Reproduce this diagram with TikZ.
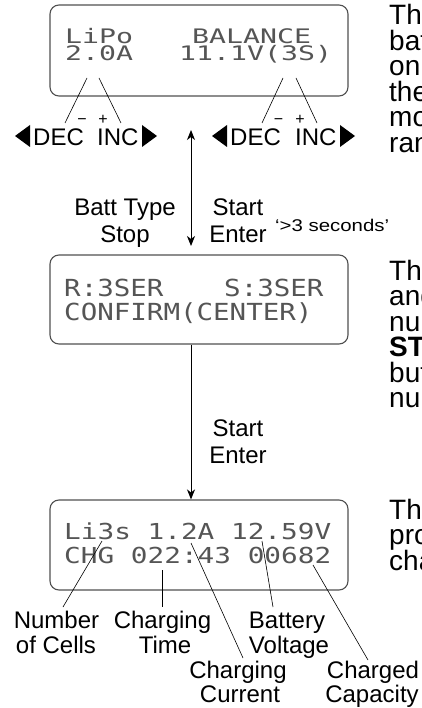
\documentclass[tikz,border=0pt]{standalone}
\usepackage{fontspec}
\usepackage{graphicx}
\setmainfont{Liberation Sans}
\newfontfamily\lcdfont{DejaVu Sans Mono}
\usetikzlibrary{arrows.meta}
\definecolor{lcdgray}{HTML}{555555}
\definecolor{boxgray}{HTML}{505050}
\newcommand\lcdA[1]{\scalebox{1.41}[1]{\lcdfont\fontsize{20}{20}\selectfont #1}}
\newcommand\lcdB[1]{\scalebox{1.17}[1]{\lcdfont\fontsize{23.5}{24}\selectfont #1}}
\newcommand\lcdC[1]{\scalebox{1.26}[1]{\lcdfont\fontsize{22}{22}\selectfont #1}}
\tikzset{
  lcdbox/.style={draw=boxgray, line width=1.1pt, rounded corners=9pt, minimum width=298pt, inner sep=0pt},
  lbl/.style={font=\fontsize{24}{26}\selectfont, inner sep=0pt, anchor=base},
  lblw/.style={font=\fontsize{24}{26}\selectfont, inner sep=0pt, anchor=base west},
  para/.style={font=\fontsize{28}{30}\selectfont, inner sep=0pt, anchor=base west},
  lcd/.style={inner sep=0pt, anchor=base west, text=lcdgray, text height=14pt, text depth=0pt},
  leader/.style={line width=0.6pt},
  pm/.style={font=\fontsize{16}{18}\selectfont, inner sep=0pt, anchor=base},
  note/.style={font=\fontsize{17}{18}\selectfont, inner sep=0pt, anchor=base west},
  flow/.style={line width=1pt},
  flowtip/.tip={Stealth[length=10pt,width=8pt,inset=3pt]}
}
\begin{document}
\begin{tikzpicture}[x=1pt,y=-1pt]
\path[use as bounding box, fill=white] (0,0) rectangle (422,708);

% LCD boxes
\node[lcdbox, minimum height=91pt] (b1) at (199,50.5) {};
\node[lcdbox, minimum height=89pt] (b2) at (199,299.5) {};
\node[lcdbox, minimum height=90pt] (b3) at (199,545) {};

% LCD texts
\node[lcd] (t1a) at (65,44) {\lcdA{LiPo}};
\node[lcd] (t1b) at (192,44) {\lcdA{BALANCE}};
\node[lcd] (t1c) at (65,61) {\lcdA{2.0A}};
\node[lcd] (t1d) at (179,61) {\lcdA{11.1V(3S)}};
\node[lcd] (t2a) at (64,296) {\lcdB{R:3SER}};
\node[lcd] (t2b) at (224,296) {\lcdB{S:3SER}};
\node[lcd] (t2c) at (64,320) {\lcdB{CONFIRM(CENTER)}};
\node[lcd] (t3a) at (64,539) {\lcdC{Li3s 1.2A 12.59V}};
\node[lcd] (t3b) at (64,563) {\lcdC{CHG 022:43 00682}};

% DEC / INC groups
\node[lblw] (decL) at (33,146) {DEC};
\node[lblw] (incL) at (97,146) {INC};
\node[lblw] (decR) at (230,146) {DEC};
\node[lblw] (incR) at (295,146) {INC};
\fill (30,125) -- (30,147) -- (15,136) -- cycle;
\fill (142,125) -- (142,147) -- (157,136) -- cycle;
\fill (227,125) -- (227,147) -- (212,136) -- cycle;
\fill (340,125) -- (340,147) -- (355,136) -- cycle;
\node[pm] (mL) at (82,125) {−};
\node[pm] (pL) at (103,125) {+};
\node[pm] (mR) at (278.5,125) {−};
\node[pm] (pR) at (300,125) {+};

\coordinate (l1a) at (87,78);  \coordinate (l1b) at (65,123);
\coordinate (l2a) at (99,78);  \coordinate (l2b) at (121,123);
\coordinate (l3a) at (283,78); \coordinate (l3b) at (262,123);
\coordinate (l4a) at (296,78); \coordinate (l4b) at (317,123);
\draw[leader] (l1a) -- (l1b);
\draw[leader] (l2a) -- (l2b);
\draw[leader] (l3a) -- (l3b);
\draw[leader] (l4a) -- (l4b);

% flow arrows
\coordinate (ax) at (191,0);
\coordinate (dA) at (191,130);
\coordinate (dB) at (191,246);
\draw[flow, flowtip-flowtip] (dA) -- (dB);
\draw[flow, -flowtip] (b2.south -| ax) -- (b3.north -| ax);

\node[lbl] (bt1) at (125,216) {Batt Type};
\node[lbl] (bt2) at (125,243) {Stop};
\node[lbl] (se1) at (238,216) {Start};
\node[lbl] (se2) at (238,243) {Enter};
\node[note] (sec) at (275,232) {\scalebox{1.2}[1]{‘>3 seconds’}};
\node[lbl] (se3) at (238,436) {Start};
\node[lbl] (se4) at (238,463) {Enter};

% bottom labels
\node[lbl] (nc1) at (56.5,628) {Number};
\node[lbl] (nc2) at (56,653) {of Cells};
\node[lbl] (ct1) at (162.5,628) {Charging};
\node[lbl] (ct2) at (165,653) {Time};
\node[lbl] (bv1) at (287,628) {Battery};
\node[lbl] (bv2) at (289,653) {Voltage};
\node[lbl] (cc1) at (238,678) {Charging};
\node[lbl] (cc2) at (240,702) {Current};
\node[lbl] (cq1) at (373,678) {Charged};
\node[lbl] (cq2) at (372,702) {Capacity};

\coordinate (m1a) at (102,541); \coordinate (m1b) at (63,607);
\coordinate (m2a) at (162,570); \coordinate (m2b) at (162,607);
\coordinate (m3a) at (191,543); \coordinate (m3b) at (243,658);
\coordinate (m4a) at (262,541); \coordinate (m4b) at (273,607);
\coordinate (m5a) at (313,565); \coordinate (m5b) at (368,660);
\draw[leader] (m1a) -- (m1b);
\draw[leader] (m2a) -- (m2b);
\draw[leader] (m3a) -- (m3b);
\draw[leader] (m4a) -- (m4b);
\draw[leader] (m5a) -- (m5b);

% cut-off text column at the right edge
\begin{scope}
\clip (0,0) rectangle (422,708);
\node[para] (p11) at (389,25) {The};
\node[para] (p12) at (389,50.5) {battery};
\node[para] (p13) at (389,76) {on};
\node[para] (p14) at (389,101.5) {the};
\node[para] (p15) at (389,127) {more};
\node[para] (p16) at (389,152.5) {range};
\node[para] (p21) at (389,280) {The};
\node[para] (p22) at (389,305.5) {and};
\node[para] (p23) at (389,331) {number};
\node[para] (p24) at (389,356.5) {\textbf{STOP}};
\node[para] (p25) at (389,382) {button};
\node[para] (p26) at (389,407.5) {number};
\node[para] (p31) at (389,519) {The};
\node[para] (p32) at (389,544.5) {process};
\node[para] (p33) at (389,570) {charge};
\end{scope}
\end{tikzpicture}
\end{document}
